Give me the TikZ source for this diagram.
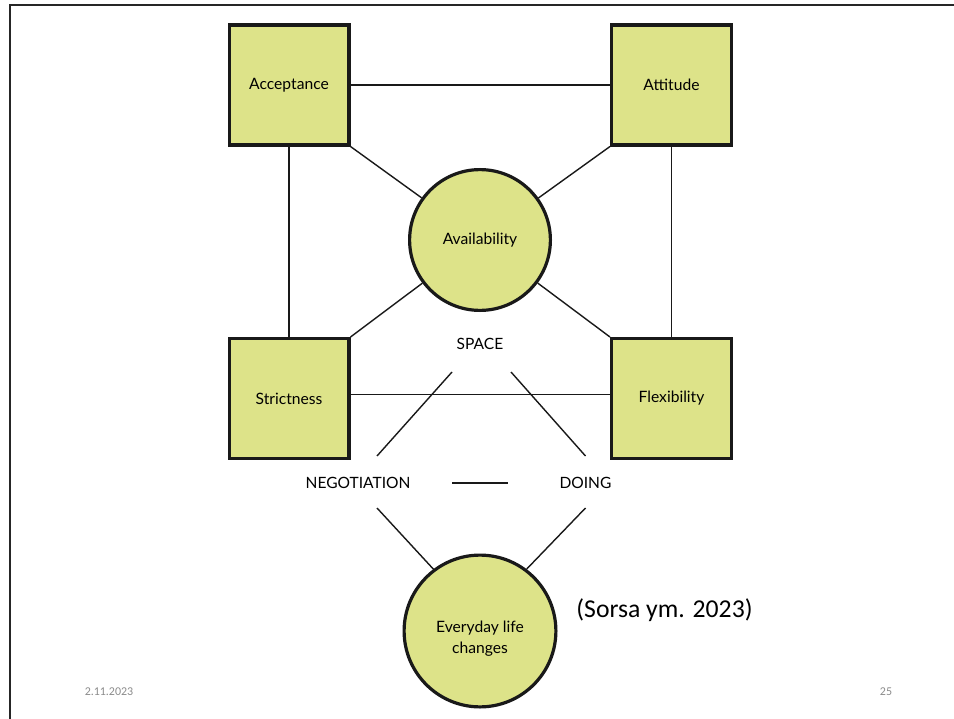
\documentclass[tikz,border=0pt]{standalone}
\usepackage{fontspec}
\setmainfont{Lato}
\newfontfamily\slidefont{Carlito}
\usepackage{xcolor}
\usepackage{tikz}
\usetikzlibrary{positioning}
\definecolor{boxgreen}{RGB}{221,227,137}
\definecolor{footgray}{RGB}{140,140,140}

\begin{document}
\begin{tikzpicture}
  [
    x=1bp, y=-1bp,
    sq/.style={
       draw=black!90,
       fill=boxgreen,
       line width=3.2bp,
       minimum width=119.8bp,
       minimum height=119.8bp,
       font=\fontsize{15.7}{18}\selectfont
    },
    rnd/.style={
       circle,
       draw=black!90,
       fill=boxgreen,
       line width=3.2bp,
       inner sep=0pt,
       font=\fontsize{15.7}{20}\selectfont
    },
    lbl/.style={
       inner sep=0pt,
       font=\fontsize{15.6}{18}\selectfont
    },
    ln/.style={
       draw=black!90,
       line width=1.4bp
    }
  ]
  \useasboundingbox [fill=white] (0,0) rectangle (954,719);
  % slide frame
  \draw [line width=2bp, black!85] (10,719) -- (10,5.5) -- (954,5.5);

  \node (acc)   at (289,85)    [sq]  {Acceptance};
  \node (att)   at (671.5,85)  [sq]  {Attitude};
  \node (str)   at (289,398.5) [sq]  {Strictness};
  \node (flex)  at (671.5,398.5) [sq] {Flexibility};
  \node (avail) at (480,240)   [rnd, minimum size=140.8bp] {Availability};
  \node (life)  at (480,631)   [rnd, minimum size=151.8bp]
        {\raisebox{-8bp}[\height][\depth]{\begin{tabular}{@{}c@{}}Everyday life\\[1bp]changes\end{tabular}}};

  \node (space) at (480,344)   [lbl] {SPACE};
  \node (neg)   at (358,483)   [lbl] {NEGOTIATION};
  \node (doing) at (585.5,483) [lbl] {DOING};

  \draw [ln] (acc.east)  -- (att.west);
  \draw [ln] (acc.south) -- (str.north);
  \draw [ln] (att.south) -- (flex.north);
  \draw [ln] ([shift={(0,-4)}]str.east) -- ([shift={(0,-4)}]flex.west);

  \draw [ln] (acc.south east)  -- (avail);
  \draw [ln] (att.south west)  -- (avail);
  \draw [ln] (str.north east)  -- (avail);
  \draw [ln] (flex.north west) -- (avail);

  \draw [ln] ([shift={(-28,28)}]space.center) -- ([shift={(19,-27)}]neg.center);
  \draw [ln] ([shift={(31,28)}]space.center)  -- ([shift={(0,-27)}]doing.center);
  \draw [ln] ([shift={(94,0)}]neg.center)     -- ([shift={(-77.5,0)}]doing.center);
  \draw [ln] ([shift={(19,25)}]neg.center)    -- (life.127);
  \draw [ln] ([shift={(0,25)}]doing.center)   -- (life.53);

  \node (cite)  at (664.5,610) [inner sep=0pt, font=\slidefont\fontsize{25.8}{30}\selectfont] {(Sorsa ym. 2023)};
  \node (date)  at (109,692)   [inner sep=0pt, footgray, font=\slidefont\fontsize{12}{14}\selectfont] {2.11.2023};
  \node (page)  at (886,692)   [inner sep=0pt, footgray, font=\slidefont\fontsize{12}{14}\selectfont] {25};
\end{tikzpicture}
\end{document}
